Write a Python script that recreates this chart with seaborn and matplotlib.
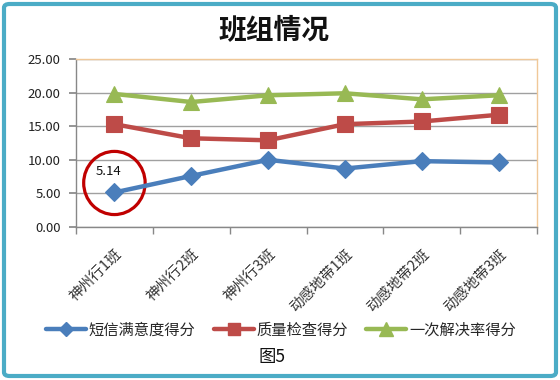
import matplotlib
matplotlib.use("Agg")
import matplotlib.pyplot as plt
import seaborn as sns
import pandas as pd
from matplotlib.patches import Ellipse, FancyBboxPatch
from matplotlib.lines import Line2D

categories = ["神州行1班", "神州行2班", "神州行3班", "动感地带1班", "动感地带2班", "动感地带3班"]
sms_score = [5.14, 7.6, 10.0, 8.7, 9.8, 9.6]
quality_score = [15.3, 13.2, 12.9, 15.3, 15.7, 16.7]
resolve_score = [19.8, 18.6, 19.6, 19.9, 19.0, 19.6]
series_names = ["短信满意度得分", "质量检查得分", "一次解决率得分"]
yticks = [0, 5, 10, 15, 20, 25]

sns.set_theme(style="white")
plt.rcParams['font.family'] = ['Noto Sans CJK SC', 'DejaVu Sans']

colors = ["#4A7EBB", "#BE4B48", "#98B954"]
markers = ["D", "s", "^"]
msizes = [9, 11, 12]

fig = plt.figure(figsize=(5.6, 3.8), dpi=100)
ax = fig.add_axes([76/560, 1-227/380, 461/560, 168/380])

df = pd.DataFrame({"班": categories * 3,
                   "score": sms_score + quality_score + resolve_score,
                   "series": sum([[n]*len(categories) for n in series_names], [])})

for name, c, m, ms in zip(series_names, colors, markers, msizes):
    sub = df[df["series"] == name]
    sns.lineplot(data=sub, x="班", y="score", ax=ax, color=c, linewidth=3.2,
                 marker=m, markersize=ms, markeredgecolor=c, markeredgewidth=0.8,
                 sort=False, legend=False)

ax.set_xlim(-0.5, len(categories) - 0.5)
ax.set_ylim(0, 25)
ax.set_yticks(yticks)
ax.set_yticklabels([f"{v:.2f}" for v in yticks], fontsize=9.5, color="#222222")
ax.set_xticks(range(len(categories)))
ax.set_xticklabels(categories, rotation=45, ha="right", rotation_mode="anchor",
                   fontsize=10.5, color="#333333")
ax.set_xticks([i - 0.5 for i in range(len(categories) + 1)], minor=True)
ax.tick_params(axis="x", which="major", length=0, pad=14)
ax.tick_params(axis="x", which="minor", length=5, color="#888888", direction="out", bottom=True)
ax.tick_params(axis="y", length=5, color="#888888", direction="out", left=True, pad=6)
ax.set_xlabel("")
ax.set_ylabel("")
ax.yaxis.grid(True, color="#A0A0A0", linewidth=1.0)
ax.set_axisbelow(True)
for s in ["left", "bottom"]:
    ax.spines[s].set_color("#888888")
    ax.spines[s].set_linewidth(1.0)
for s in ["top", "right"]:
    ax.spines[s].set_color("#F0C898")
    ax.spines[s].set_linewidth(1.0)

# annotation circle and label
ax.add_patch(Ellipse((0, 6.55), 0.8, 9.4, fill=False, edgecolor="#C00000", linewidth=2.3, clip_on=False))
ax.text(-0.08, 8.2, f"{sms_score[0]:.2f}", fontsize=9.5, ha="center", va="center", color="#111111")

fig.text(0.49, 1-30/380, "班组情况", fontsize=20, fontweight="bold", ha="center", va="center", color="#111111")

handles = [Line2D([0], [0], color=c, linewidth=3.2, marker=m, markersize=ms * 0.8, markeredgecolor=c)
           for c, m, ms in zip(colors, markers, msizes)]
fig.legend(handles, series_names, loc="center", bbox_to_anchor=(281/560, 1-330/380), ncol=3,
           frameon=False, fontsize=11, handlelength=2.6, handletextpad=0.2, columnspacing=1.2)

fig.text(272/560, 1-357/380, "图5", fontsize=12.5, ha="center", va="center", color="#111111")

fig.patches.append(FancyBboxPatch((4/560, 4/380), 552/560, 372/380, boxstyle="round,pad=0,rounding_size=0.01",
                                  transform=fig.transFigure, fill=False, edgecolor="#4BACC6", linewidth=3))

fig.savefig("out.png", dpi=100)
